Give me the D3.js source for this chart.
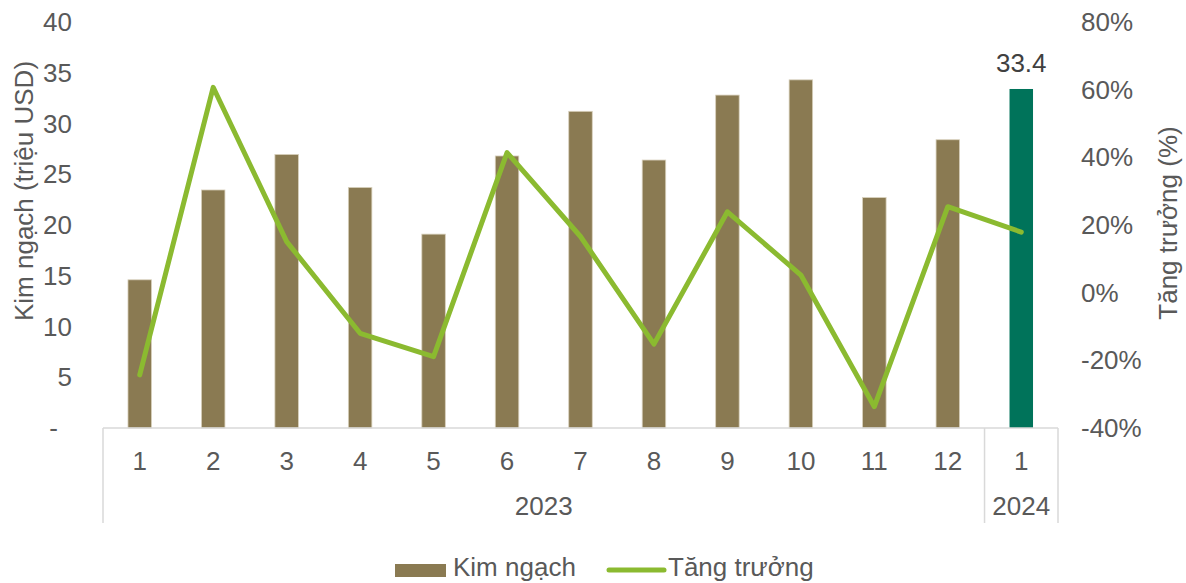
<!DOCTYPE html>
<html><head><meta charset="utf-8">
<script src="https://cdn.jsdelivr.net/npm/d3@7"></script>
<style>body{margin:0;background:#fff;overflow:hidden;}svg{display:block;font-family:"Liberation Sans",Arial,sans-serif;}</style>
</head><body>
<script>
const months = ["1","2","3","4","5","6","7","8","9","10","11","12","1"];
const years = [{label:"2023", from:0, to:12},{label:"2024", from:12, to:13}];
const kimNgach = [14.6, 23.45, 26.95, 23.7, 19.1, 26.8, 31.2, 26.4, 32.8, 34.3, 22.7, 28.4, 33.4];
const tangTruong = [-24.3, 60.7, 15.1, -12.0, -18.9, 41.4, 16.6, -15.2, 23.9, 5.2, -33.7, 25.4, 17.9];
const leftTicks = [0,5,10,15,20,25,30,35,40];
const rightTicks = [-40,-20,0,20,40,60,80];

const W=1186,H=583;
const FS=26;
const svg=d3.select("body").append("svg").attr("width",W).attr("height",H);
const x0=103,x1=1058,yTop=22,yBot=428;
const idx=d3.range(months.length);
const x=d3.scaleBand().domain(idx).range([x0,x1]).paddingInner(0).paddingOuter(0);
const yL=d3.scaleLinear().domain([0,40]).range([yBot,yTop]);
const yR=d3.scaleLinear().domain([-40,80]).range([yBot,yTop]);
const txt="#595959", grid="#d9d9d9";
const barW=23.5;

// bars
svg.append("g").selectAll("rect").data(kimNgach).join("rect")
  .attr("x",(d,i)=>x(i)+x.bandwidth()/2-barW/2).attr("width",barW)
  .attr("y",d=>yL(d)).attr("height",d=>yBot-yL(d))
  .attr("fill",(d,i)=>i===kimNgach.length-1?"#00735A":"#8A7A52")
  .attr("stroke",(d,i)=>i===kimNgach.length-1?"none":"#d8d0bc").attr("stroke-width",0.8);

// data label for last bar
const li=kimNgach.length-1;
svg.append("text").attr("x",x(li)+x.bandwidth()/2).attr("y",yL(kimNgach[li])-17)
  .attr("text-anchor","middle").attr("font-size",FS).attr("fill","#404040").text(kimNgach[li].toFixed(1));

// line
const line=d3.line().x((d,i)=>x(i)+x.bandwidth()/2).y(d=>yR(d));
svg.append("path").datum(tangTruong).attr("d",line).attr("fill","none")
  .attr("stroke","#8BBA30").attr("stroke-width",5).attr("stroke-linejoin","round").attr("stroke-linecap","round");

// x axis line & separators
const ax=svg.append("g");
ax.append("line").attr("x1",x0).attr("x2",x1).attr("y1",yBot).attr("y2",yBot).attr("stroke",grid).attr("stroke-width",1.5);
const seps=[0,12,13];
ax.selectAll("line.sep").data(seps).join("line").attr("class","sep")
  .attr("x1",d=>d<13?x(d):x1).attr("x2",d=>d<13?x(d):x1)
  .attr("y1",yBot).attr("y2",523).attr("stroke",grid).attr("stroke-width",1.5);
ax.selectAll("text.m").data(months).join("text").attr("class","m")
  .attr("x",(d,i)=>x(i)+x.bandwidth()/2).attr("y",470).attr("text-anchor","middle")
  .attr("font-size",FS).attr("fill",txt).text(d=>d);
ax.selectAll("text.y").data(years).join("text").attr("class","y")
  .attr("x",d=>(x(d.from)+(d.to<13?x(d.to):x1))/2).attr("y",515).attr("text-anchor","middle")
  .attr("font-size",FS).attr("fill",txt).text(d=>d.label);

// left axis
svg.append("g").selectAll("text").data(leftTicks).join("text")
  .attr("x",d=>d===0?58:72).attr("y",d=>yL(d)+9).attr("text-anchor","end").attr("font-size",FS).attr("fill",txt)
  .text(d=>d===0?"-":d);
// right axis
svg.append("g").selectAll("text").data(rightTicks).join("text")
  .attr("x",1081).attr("y",d=>yR(d)+9).attr("text-anchor","start").attr("font-size",FS).attr("fill",txt)
  .text(d=>d+"%");

// axis titles
svg.append("text").attr("transform","translate(33,191) rotate(-90)").attr("text-anchor","middle")
  .attr("font-size",FS).attr("fill",txt).text("Kim ngạch (triệu USD)");
svg.append("text").attr("transform","translate(1177,223) rotate(-90)").attr("text-anchor","middle")
  .attr("font-size",FS).attr("fill",txt).text("Tăng trưởng (%)");

// legend
const lg=svg.append("g");
lg.append("rect").attr("x",395).attr("y",564).attr("width",51).attr("height",13).attr("fill","#8A7A52");
lg.append("text").attr("x",453).attr("y",576).attr("font-size",FS).attr("fill",txt).text("Kim ngạch");
lg.append("line").attr("x1",609).attr("x2",664).attr("y1",570).attr("y2",570).attr("stroke","#8BBA30").attr("stroke-width",5).attr("stroke-linecap","round");
lg.append("text").attr("x",668).attr("y",576).attr("font-size",FS).attr("fill",txt).text("Tăng trưởng");
</script>
</body></html>
